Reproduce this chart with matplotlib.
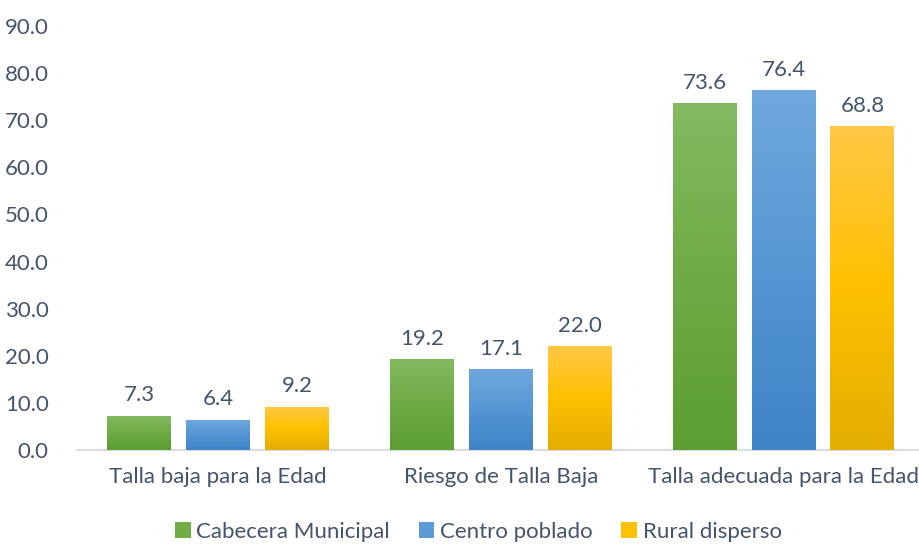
import numpy as np
import matplotlib.pyplot as plt
from matplotlib.colors import LinearSegmentedColormap

categories = ["Talla baja para la Edad", "Riesgo de Talla Baja", "Talla adecuada para la Edad"]
series = ["Cabecera Municipal", "Centro poblado", "Rural disperso"]
cabecera = [7.3, 19.2, 73.6]
centro = [6.4, 17.1, 76.4]
rural = [9.2, 22.0, 68.8]
yticks = [0, 10, 20, 30, 40, 50, 60, 70, 80, 90]

# gradient (top, middle, bottom) per series
grads = [("#84ba62", "#6eab45", "#5c9e32"),
         ("#70a8de", "#5596d3", "#3e84c6"),
         ("#ffc845", "#ffc000", "#e3ae00")]
solid = ["#70ad47", "#5b9bd5", "#ffc000"]
txt = "#44546a"

plt.rcParams['font.family'] = ['Lato', 'DejaVu Sans']

fig = plt.figure(figsize=(9.2, 5.44), dpi=100)
ax = fig.add_axes([0.0833, 0.173, 0.922, 0.779])

x = np.arange(len(categories))
width = 0.226
offs = [-0.279, 0, 0.279]
grad_img = np.linspace(1, 0, 256).reshape(-1, 1)

for vals, off, g, c, name in zip([cabecera, centro, rural], offs, grads, solid, series):
    bars = ax.bar(x + off, vals, width, color=c, label=name, zorder=2)
    cmap = LinearSegmentedColormap.from_list("g", [g[2], g[1], g[0]])
    for b, v in zip(bars, vals):
        bx = b.get_x()
        im = ax.imshow(grad_img, extent=[bx, bx + width, 0, v], aspect='auto',
                       cmap=cmap, zorder=3, origin='upper', vmin=0, vmax=1)
        im.set_clip_path(b)
        ax.text(b.get_x() + width / 2, v + 2.2, f"{v:.1f}", ha='center', va='bottom',
                color=txt, fontsize=16)

ax.set_xlim(-0.5, 2.5)
ax.set_ylim(0, 90)
ax.set_yticks(yticks)
ax.set_yticklabels([f"{t:.1f}" for t in yticks])
ax.set_xticks(x)
ax.set_xticklabels(categories)
ax.tick_params(axis='both', length=0, labelcolor=txt, labelsize=16)
ax.tick_params(axis='y', pad=20)
ax.tick_params(axis='x', pad=12)
for s in ['top', 'right', 'left']:
    ax.spines[s].set_visible(False)
ax.spines['bottom'].set_color("#d9dde3")
ax.spines['bottom'].set_linewidth(1.5)

leg = fig.legend(loc='center', bbox_to_anchor=(0.52, 0.022), ncol=3, frameon=False,
                 fontsize=16, handlelength=0.7, handleheight=0.7, handletextpad=0.25,
                 columnspacing=1.3, labelcolor=txt)

fig.savefig("out.png", dpi=100)
